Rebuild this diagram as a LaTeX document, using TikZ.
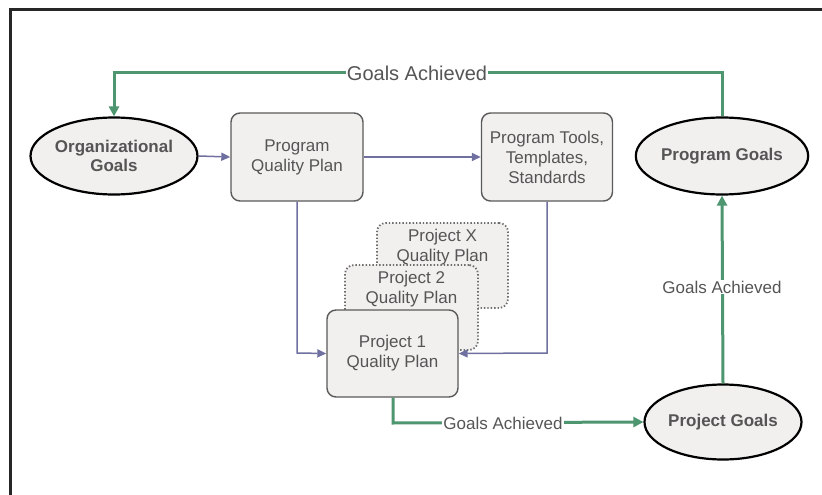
\documentclass[tikz,border=0pt]{standalone}
\usepackage{fontspec}
\setmainfont{Liberation Sans}
\usetikzlibrary{shapes.geometric,arrows.meta}
\definecolor{fillg}{HTML}{F2F0EE}
\definecolor{txt}{HTML}{555555}
\definecolor{gline}{HTML}{4E9670}
\definecolor{bline}{HTML}{7070A0}
\definecolor{boxb}{HTML}{5A5A5A}
\definecolor{dotb}{HTML}{6E6E6E}
\tikzset{
  goal/.style={ellipse, draw=black, line width=2.2pt, fill=fillg, text=txt, font=\fontsize{17}{19}\selectfont\bfseries, align=center, inner sep=0pt},
  plan/.style={rounded corners=9pt, draw=boxb, line width=1.4pt, fill=fillg, text=txt, font=\fontsize{17}{20}\selectfont, align=center, inner sep=0pt},
  dplan/.style={plan, draw=dotb, dotted, line width=1.8pt},
  gflow/.style={draw=gline, line width=3pt, -{Triangle[length=10pt,width=10pt]}},
  bflow/.style={draw=bline, line width=1.5pt, -{Triangle[length=9pt,width=8pt]}},
  glabel/.style={fill=white, text=txt, inner sep=1pt, font=\fontsize{17}{19}\selectfont}
}
\begin{document}
\begin{tikzpicture}[x=1pt,y=-1pt]
\useasboundingbox (0,0) rectangle (822,495);
\fill[white] (0,0) rectangle (822,495);
\draw[line width=3pt, black!85] (822,10) -- (10,10) -- (10,495);
% nodes
\node[goal, minimum width=156pt, minimum height=77pt] (org) at (114,156) {Organizational\\Goals};
\node[goal, minimum width=157pt, minimum height=77pt] (pgoal) at (722,156) {Program Goals};
\node[goal, minimum width=157pt, minimum height=75pt] (jgoal) at (723,422) {Project Goals};
\node[plan, minimum width=132pt, minimum height=88pt] (pqp) at (297,157) {Program\\Quality Plan};
\node[plan, minimum width=131pt, minimum height=88pt] (tools) at (547,157) {Program Tools,\\Templates,\\Standards};
\node[dplan, minimum width=131pt, minimum height=85pt] (px) at (442.5,265.5) {};
\node[text=txt, font=\fontsize{17}{20}\selectfont, align=center] (pxt) at (442.5,247) {Project X\\Quality Plan};
\node[dplan, minimum width=133pt, minimum height=85pt] (p2) at (411.5,307.5) {};
\node[text=txt, font=\fontsize{17}{20}\selectfont, align=center] (p2t) at (411.5,289) {Project 2\\Quality Plan};
\node[plan, minimum width=131pt, minimum height=87pt] (p1) at (392.5,353.5) {Project 1\\Quality Plan};
% blue connectors
\coordinate (bl1) at (297,353);
\coordinate (br1) at (547,353);
\draw[bflow] (org.east) -- (pqp.west);
\draw[bflow] (pqp.east) -- (tools.west);
\draw[bflow] (pqp.south) -- (bl1) -- (p1.west);
\draw[bflow] (tools.south) -- (br1) -- (p1.east);
% green connectors
\coordinate (tr) at (722,73);
\coordinate (tl) at (114,73);
\draw[gflow] (pgoal.north) -- (tr) -- (tl) -- (org.north);
\node[glabel, font=\fontsize{20}{22}\selectfont] (lt) at (417,73) {Goals Achieved};
\draw[gflow] (jgoal.north) -- (pgoal.south);
\node[glabel] (lr) at (722,287) {Goals Achieved};
\coordinate (bl) at (393,423);
\draw[gflow] (p1.south -| bl) -- (bl) -- (jgoal.west);
\node[glabel] (lb) at (503,423) {Goals Achieved};
\end{tikzpicture}
\end{document}
